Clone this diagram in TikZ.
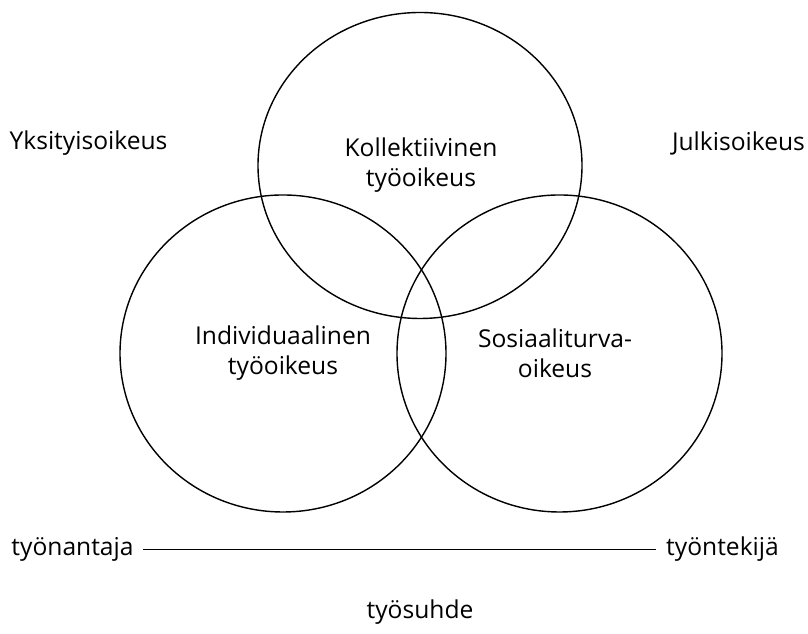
\documentclass[tikz,border=0pt]{standalone}
\usepackage{fontspec}
\setmainfont{Open Sans}
\usepackage{tikz}
\usetikzlibrary{positioning}

\begin{document}
\begin{tikzpicture}[
            area/.style={draw, line width=0.8pt},
            lbl/.style={align=center, font=\fontsize{14}{17}\selectfont},
            side/.style={font=\fontsize{14}{17}\selectfont}
        ]
        \useasboundingbox (0,0) rectangle (16.16,12.68);

        % Circles
        \draw[area] (8.40,9.37) ellipse [x radius=3.24cm, y radius=3.06cm];
        \draw[area] (5.66,5.61) ellipse [x radius=3.26cm, y radius=3.17cm];
        \draw[area] (11.19,5.61) ellipse [x radius=3.25cm, y radius=3.17cm];

        % Fields
        \node[lbl] (koll) at (8.42,9.37) {Kollektiivinen\\työoikeus};
        \node[lbl] (indiv) at (5.66,5.62) {Individuaalinen\\työoikeus};
        \node[lbl] (sosi) at (11.10,5.62) {Sosiaaliturva-\\oikeus};

        % Sides
        \node[side] (yksit) at (1.77,9.82) {Yksityisoikeus};
        \node[side] (julki) at (14.77,9.82) {Julkisoikeus};

        % Employment relation
        \node[side] (antaja) at (1.45,1.70) {työnantaja};
        \node[side] (tekija) at (14.45,1.70) {työntekijä};
        \node[side] (suhde) at (8.40,0.44) {työsuhde};
        \draw[line width=0.45pt, shorten <=0.06cm, shorten >=0.08cm] (antaja.east) -- (tekija.west);

    \end{tikzpicture}
\end{document}
